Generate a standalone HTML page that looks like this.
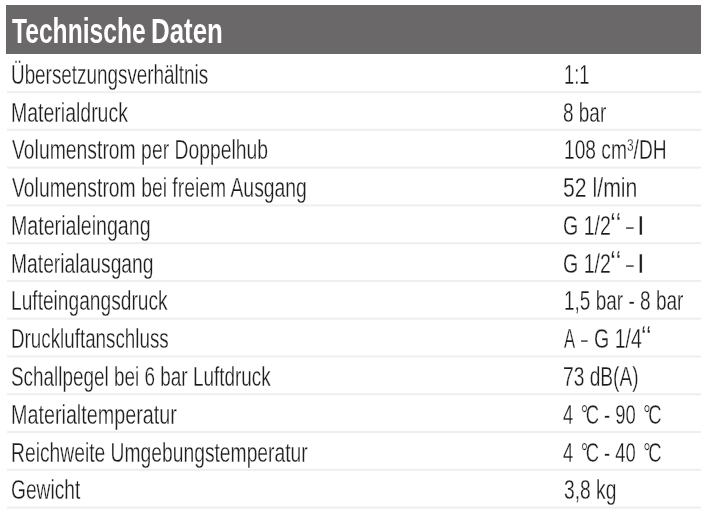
<!DOCTYPE html>
<html lang="de"><head><meta charset="utf-8"><title>Technische Daten</title>
<style>
html,body{margin:0;padding:0;background:#fff;}
body{width:701px;height:519px;overflow:hidden;position:relative;font-family:"Liberation Sans",sans-serif;color:#1e1d1c;}
.hd{position:absolute;left:6px;top:5px;width:695px;height:49px;background:#6a6869;}
.ln{position:absolute;left:7px;width:694px;height:1px;}
.t{position:absolute;white-space:nowrap;display:block;transform-origin:0 0;line-height:1;font-size:27.0px;-webkit-text-stroke:0.3px #fff;}
.h{font-weight:bold;color:#fff;font-size:35.0px;-webkit-text-stroke:0;}
.d{margin:0 -0.13em 0 0.13em;}
sup{font-size:62%;vertical-align:baseline;position:relative;top:-0.47em;line-height:0;}
</style></head><body>
<div class="hd"></div>
<span class="t h" style="left:11.54px;top:13.00px;transform:scaleX(0.7034)">Technische</span>
<span class="t h" style="left:150.55px;top:13.00px;transform:scaleX(0.7385)">Daten</span>
<span class="t" style="left:11.43px;top:62.00px;transform:scaleX(0.6988)">Übersetzungsverhältnis</span>
<span class="t" style="left:10.69px;top:100.00px;transform:scaleX(0.7216)">Materialdruck</span>
<span class="t" style="left:11.73px;top:137.00px;transform:scaleX(0.7170)">Volumenstrom per Doppelhub</span>
<span class="t" style="left:11.73px;top:175.00px;transform:scaleX(0.7171)">Volumenstrom bei freiem Ausgang</span>
<span class="t" style="left:10.67px;top:213.00px;transform:scaleX(0.7265)">Materialeingang</span>
<span class="t" style="left:10.70px;top:251.00px;transform:scaleX(0.7140)">Materialausgang</span>
<span class="t" style="left:10.81px;top:288.00px;transform:scaleX(0.7096)">Lufteingangsdruck</span>
<span class="t" style="left:10.85px;top:326.00px;transform:scaleX(0.6960)">Druckluftanschluss</span>
<span class="t" style="left:10.95px;top:364.00px;transform:scaleX(0.7005)">Schallpegel bei 6 bar Luftdruck</span>
<span class="t" style="left:10.66px;top:402.00px;transform:scaleX(0.7316)">Materialtemperatur</span>
<span class="t" style="left:10.90px;top:440.00px;transform:scaleX(0.7137)">Reichweite Umgebungstemperatur</span>
<span class="t" style="left:11.33px;top:477.00px;transform:scaleX(0.7101)">Gewicht</span>
<span class="t" style="left:563.53px;top:61.00px;transform:scaleX(0.6548);font-size:28.00px">1:1</span>
<span class="t" style="left:563.07px;top:99.00px;transform:scaleX(0.6772);font-size:28.00px">8 bar</span>
<span class="t" style="left:564.46px;top:136.00px;transform:scaleX(0.6855);font-size:28.00px">108 cm<sup>3</sup>/DH</span>
<span class="t" style="left:562.96px;top:174.00px;transform:scaleX(0.7588);font-size:28.00px">52 l/min</span>
<span class="t" style="left:562.86px;top:212.00px;transform:scaleX(0.7004);font-size:28.00px">G 1/2</span>
<span class="t" style="left:610.28px;top:209.30px;transform:scaleX(0.8556);font-size:31.36px">‘‘</span>
<span class="t" style="left:625.84px;top:212.00px;transform:scaleX(0.4984);font-size:28.00px">–</span>
<span class="t" style="left:637.41px;top:212.00px;transform:scaleX(0.9778);font-size:28.00px">I</span>
<span class="t" style="left:562.86px;top:250.00px;transform:scaleX(0.7004);font-size:28.00px">G 1/2</span>
<span class="t" style="left:610.28px;top:247.30px;transform:scaleX(0.8556);font-size:31.36px">‘‘</span>
<span class="t" style="left:625.84px;top:250.00px;transform:scaleX(0.4984);font-size:28.00px">–</span>
<span class="t" style="left:637.41px;top:250.00px;transform:scaleX(0.9778);font-size:28.00px">I</span>
<span class="t" style="left:563.87px;top:287.00px;transform:scaleX(0.6786);font-size:28.00px">1,5 bar - 8 bar</span>
<span class="t" style="left:564.08px;top:325.00px;transform:scaleX(0.5944);font-size:28.00px">A</span>
<span class="t" style="left:581.35px;top:325.00px;transform:scaleX(0.4328);font-size:28.00px">–</span>
<span class="t" style="left:593.87px;top:325.00px;transform:scaleX(0.6983);font-size:28.00px">G 1/4</span>
<span class="t" style="left:641.00px;top:322.30px;transform:scaleX(0.8000);font-size:31.36px">‘‘</span>
<span class="t" style="left:562.89px;top:363.00px;transform:scaleX(0.6850);font-size:28.00px">73 dB(A)</span>
<span class="t" style="left:562.91px;top:401.00px;transform:scaleX(0.6561);font-size:28.00px">4 <span class="d">°</span>C - 90 <span class="d">°</span>C</span>
<span class="t" style="left:562.91px;top:439.00px;transform:scaleX(0.6561);font-size:28.00px">4 <span class="d">°</span>C - 40 <span class="d">°</span>C</span>
<span class="t" style="left:563.54px;top:476.00px;transform:scaleX(0.6863);font-size:28.00px">3,8 kg</span>
<div class="ln" style="top:91px;background:#f0f0f0"></div>
<div class="ln" style="top:92px;background:#eeeeee"></div>
<div class="ln" style="top:93px;background:#fdfdfd"></div>
<div class="ln" style="top:128px;background:#fdfdfd"></div>
<div class="ln" style="top:129px;background:#eeeeee"></div>
<div class="ln" style="top:130px;background:#f0f0f0"></div>
<div class="ln" style="top:166px;background:#f9f9f9"></div>
<div class="ln" style="top:167px;background:#eeeeee"></div>
<div class="ln" style="top:168px;background:#f4f4f4"></div>
<div class="ln" style="top:204px;background:#f5f5f5"></div>
<div class="ln" style="top:205px;background:#eeeeee"></div>
<div class="ln" style="top:206px;background:#f8f8f8"></div>
<div class="ln" style="top:242px;background:#f1f1f1"></div>
<div class="ln" style="top:243px;background:#eeeeee"></div>
<div class="ln" style="top:244px;background:#fcfcfc"></div>
<div class="ln" style="top:280px;background:#eeeeee"></div>
<div class="ln" style="top:281px;background:#efefef"></div>
<div class="ln" style="top:317px;background:#fafafa"></div>
<div class="ln" style="top:318px;background:#eeeeee"></div>
<div class="ln" style="top:319px;background:#f3f3f3"></div>
<div class="ln" style="top:355px;background:#f6f6f6"></div>
<div class="ln" style="top:356px;background:#eeeeee"></div>
<div class="ln" style="top:357px;background:#f7f7f7"></div>
<div class="ln" style="top:393px;background:#f2f2f2"></div>
<div class="ln" style="top:394px;background:#eeeeee"></div>
<div class="ln" style="top:395px;background:#fbfbfb"></div>
<div class="ln" style="top:431px;background:#efefef"></div>
<div class="ln" style="top:432px;background:#eeeeee"></div>
<div class="ln" style="top:468px;background:#fcfcfc"></div>
<div class="ln" style="top:469px;background:#eeeeee"></div>
<div class="ln" style="top:470px;background:#f1f1f1"></div>
<div class="ln" style="top:506px;background:#f8f8f8"></div>
<div class="ln" style="top:507px;background:#eeeeee"></div>
<div class="ln" style="top:508px;background:#f5f5f5"></div>
</body></html>
